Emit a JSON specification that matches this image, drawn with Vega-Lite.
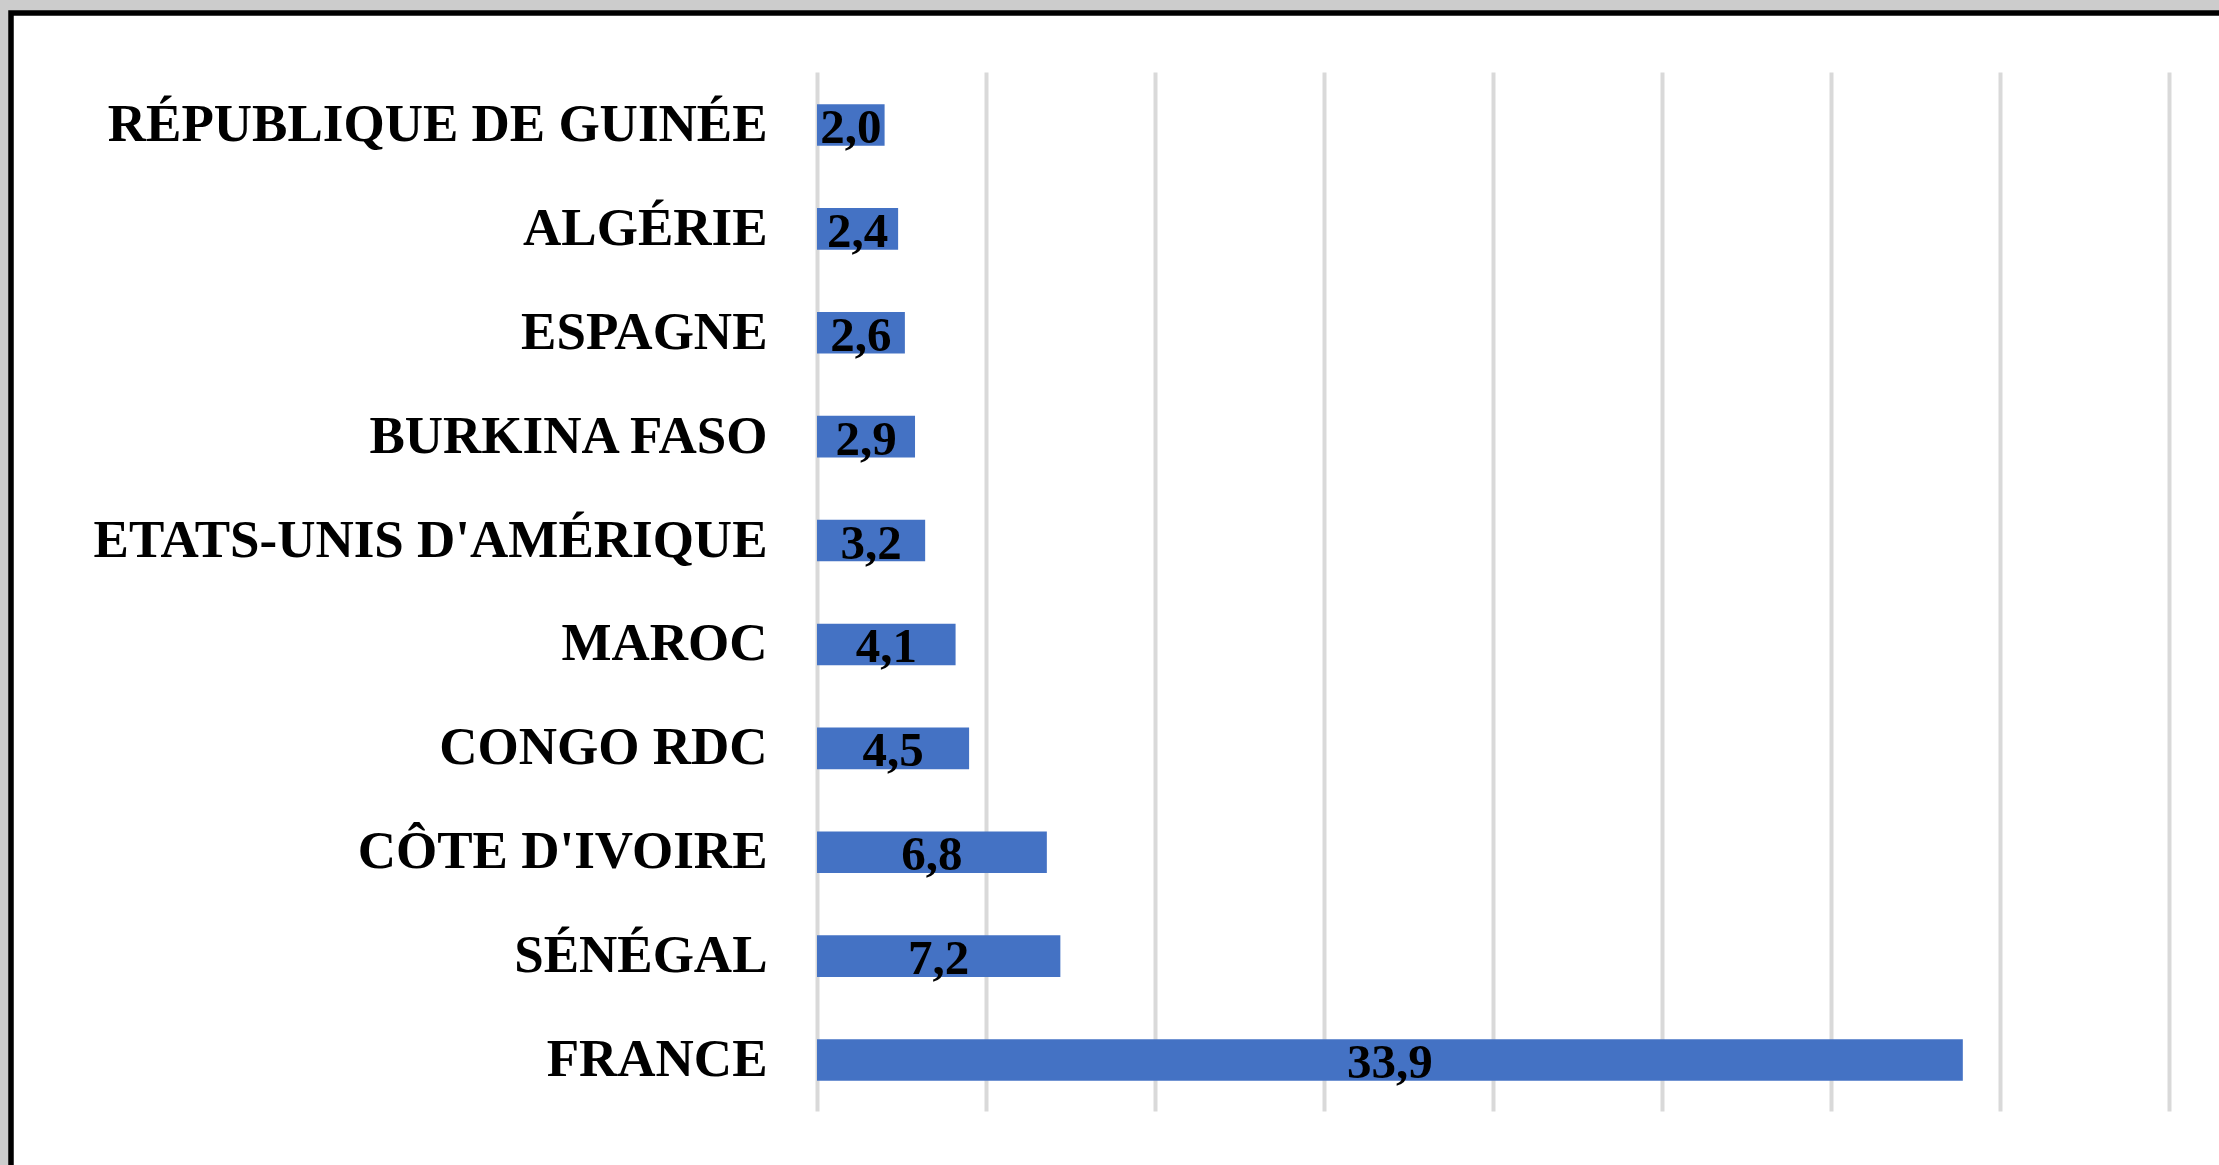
{
  "$schema": "https://vega.github.io/schema/vega-lite/v6.json",
  "autosize": {"type": "none"},
  "padding": {"left": 11, "top": 13, "right": -6, "bottom": -6},
  "width": 2214,
  "height": 1158,
  "background": "#cccccc",
  "config": {
    "locale": {"number": {"decimal": ",", "thousands": " ", "grouping": [3], "currency": ["", " €"]}},
    "view": {"fill": "white", "stroke": "black", "strokeWidth": 5.5}
  },
  "data": {
    "values": [
      {"pays": "RÉPUBLIQUE DE GUINÉE", "part": 2.0},
      {"pays": "ALGÉRIE", "part": 2.4},
      {"pays": "ESPAGNE", "part": 2.6},
      {"pays": "BURKINA FASO", "part": 2.9},
      {"pays": "ETATS-UNIS D'AMÉRIQUE", "part": 3.2},
      {"pays": "MAROC", "part": 4.1},
      {"pays": "CONGO RDC", "part": 4.5},
      {"pays": "CÔTE D'IVOIRE", "part": 6.8},
      {"pays": "SÉNÉGAL", "part": 7.2},
      {"pays": "FRANCE", "part": 33.9}
    ]
  },
  "encoding": {
    "y": {
      "field": "pays",
      "type": "nominal",
      "sort": null,
      "scale": {"range": [60, 1099], "paddingInner": 0.6, "paddingOuter": 0.3},
      "axis": {
        "title": null,
        "orient": "left",
        "offset": -756,
        "domain": false,
        "ticks": false,
        "tickSize": 0,
        "labelPadding": 0,
        "labelFont": "Liberation Serif",
        "labelFontWeight": "bold",
        "labelFontSize": 53,
        "labelColor": "black",
        "labelLimit": 0,
        "grid": false
      }
    }
  },
  "layer": [
    {
      "mark": {"type": "bar", "color": "#4472C4"},
      "encoding": {
        "x": {
          "field": "part",
          "type": "quantitative",
          "scale": {"domain": [0, 40], "range": [806, 2158], "nice": false, "zero": true},
          "axis": {
            "title": null,
            "orient": "bottom",
            "values": [0, 5, 10, 15, 20, 25, 30, 35, 40],
            "labels": false,
            "ticks": false,
            "domain": false,
            "grid": true,
            "gridColor": "#d9d9d9",
            "gridWidth": 4
          }
        }
      }
    },
    {
      "mark": {
        "type": "text",
        "font": "Liberation Serif",
        "fontWeight": "bold",
        "fontSize": 49,
        "color": "black",
        "align": "center",
        "baseline": "middle",
        "dy": 3
      },
      "encoding": {
        "x": {"field": "part", "type": "quantitative", "stack": "zero", "bandPosition": 0.5},
        "text": {"field": "part", "type": "quantitative", "format": ".1f"}
      }
    }
  ]
}
